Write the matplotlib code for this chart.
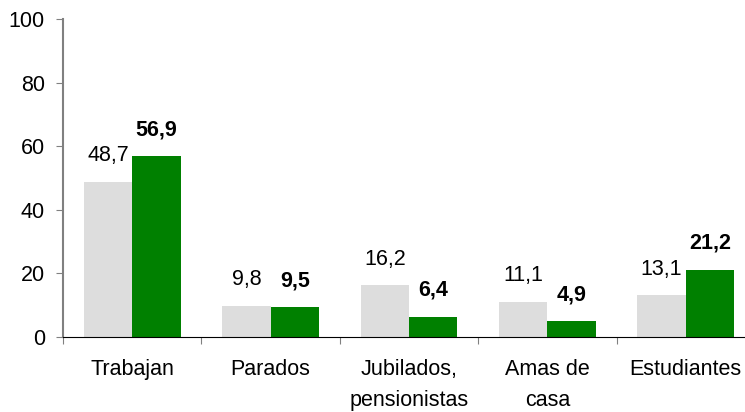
import matplotlib
matplotlib.use("Agg")
import matplotlib.pyplot as plt
import numpy as np

plt.rcParams['font.family'] = ['Liberation Sans', 'DejaVu Sans']

categories = ["Trabajan", "Parados", "Jubilados,\npensionistas", "Amas de\ncasa", "Estudiantes"]
serie_a = [48.7, 9.8, 16.2, 11.1, 13.1]
serie_b = [56.9, 9.5, 6.4, 4.9, 21.2]
yticks = [0, 20, 40, 60, 80, 100]

FS = 15.5

fig = plt.figure(figsize=(7.45, 4.12), dpi=100)
ax = fig.add_axes([63/745, 1-337/412, 692/745, (337-19)/412])

x = np.arange(len(categories))
w = 0.35
ax.bar(x - w/2, serie_a, width=w, color="#DDDDDD")
ax.bar(x + w/2, serie_b, width=w, color="#008000")

def fmt(v):
    return f"{v:.1f}".replace(".", ",")

for xi, v in zip(x, serie_a):
    ax.text(xi - w/2, v + 6.5, fmt(v), ha="center", va="baseline", fontsize=FS)
for xi, v in zip(x, serie_b):
    ax.text(xi + w/2, v + 6.5, fmt(v), ha="center", va="baseline", fontsize=FS, fontweight="bold")

ax.set_xlim(-0.5, len(categories) - 0.5)
ax.set_ylim(0, 100)
ax.set_yticks(yticks)
ax.set_yticklabels([str(t) for t in yticks], fontsize=FS)
ax.set_xticks(np.arange(len(categories) + 1) - 0.5)
ax.set_xticklabels([])
ax.set_xticks(x, minor=True)
ax.set_xticklabels(categories, minor=True, fontsize=FS, linespacing=1.6)
ax.tick_params(axis="x", which="minor", length=0, pad=16)
ax.tick_params(axis="x", which="major", length=5, color="#808080", direction="out")
ax.tick_params(axis="y", length=5, color="#808080", direction="out", pad=8)

for s in ["top", "right"]:
    ax.spines[s].set_visible(False)
ax.spines["left"].set_color("#808080")
ax.spines["left"].set_linewidth(1.5)
ax.spines["bottom"].set_color("black")

fig.savefig("out.png", dpi=100)
